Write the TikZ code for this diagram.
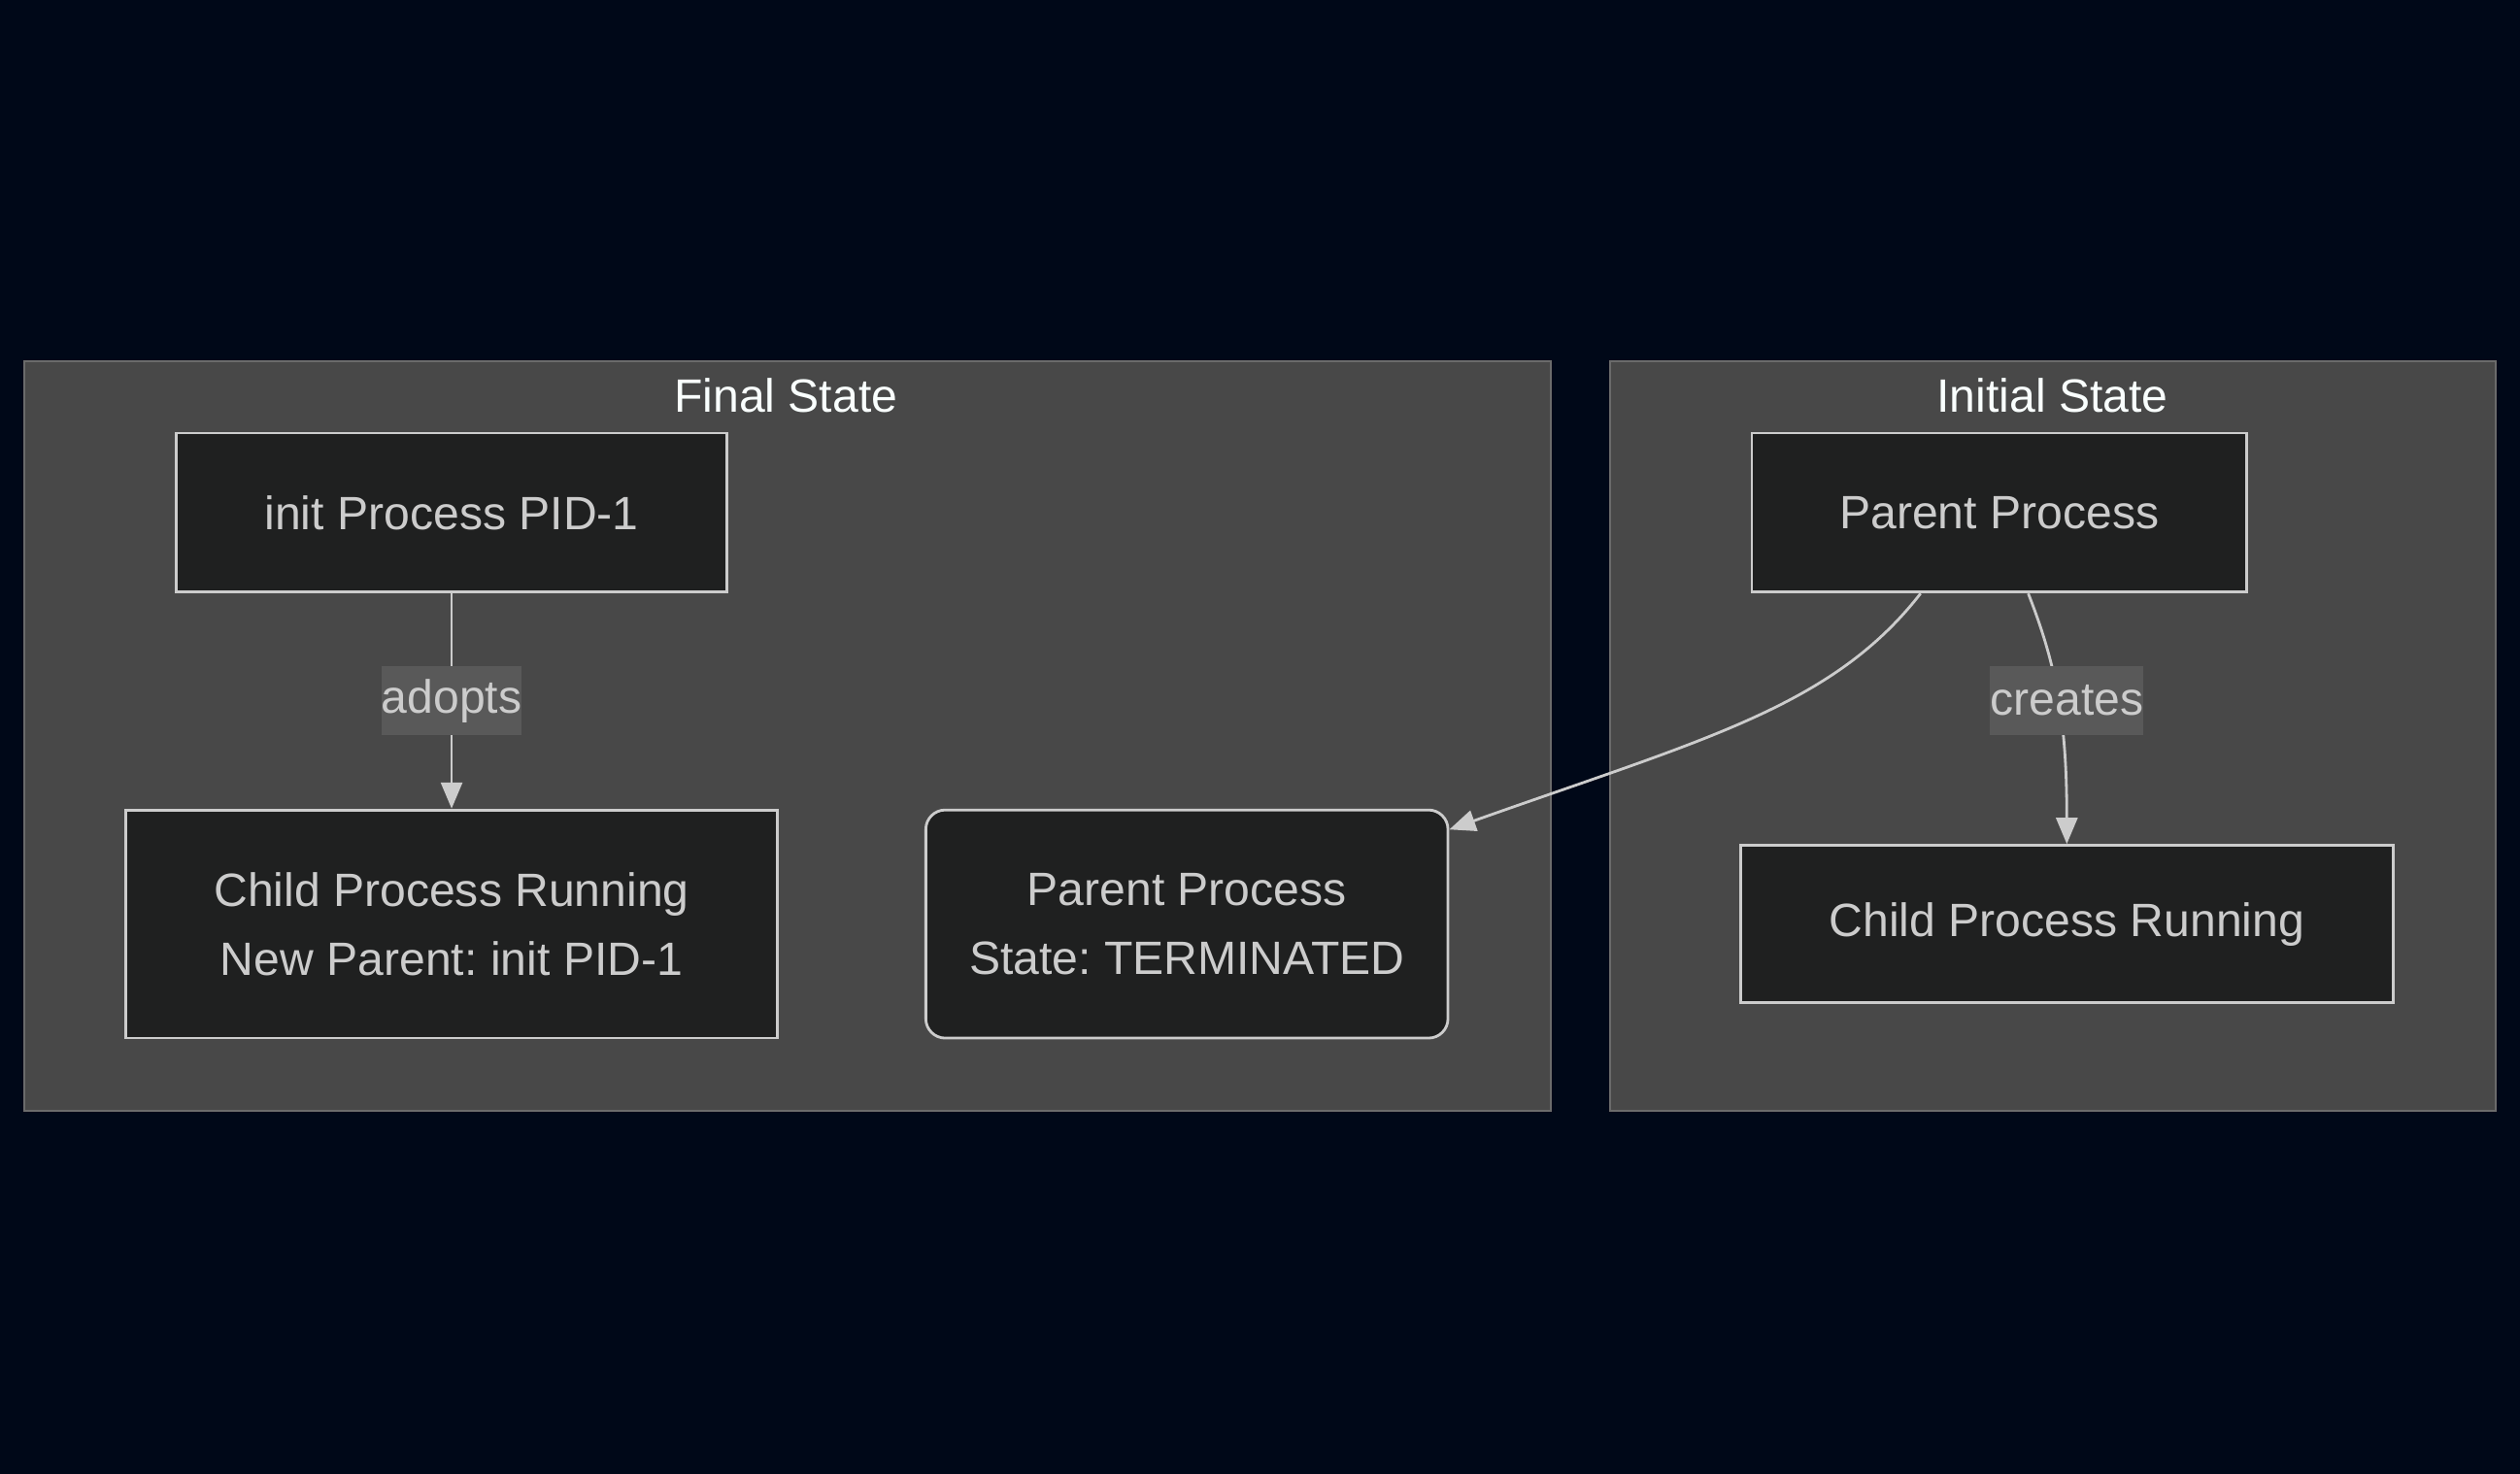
\documentclass[tikz,border=0pt]{standalone}
\usepackage{fontspec}
\setmainfont{Liberation Sans}
\frenchspacing
\usetikzlibrary{arrows.meta,calc}
\definecolor{bgnavy}{HTML}{000818}
\definecolor{clusterfill}{HTML}{484848}
\definecolor{clusterline}{HTML}{6B6B6B}
\definecolor{procfill}{HTML}{1F2020}
\definecolor{procline}{HTML}{CCCCCC}
\definecolor{lblfill}{HTML}{595959}
\definecolor{titletext}{HTML}{F9FFFE}
\newcommand{\linew}{0.8pt}
\newcommand{\txtfont}{\fontsize{13.7pt}{20.2pt}\selectfont}

\begin{document}
\begin{tikzpicture}[x=0.01655cm, y=-0.01655cm,
        proc/.style={draw=procline, fill=procfill, line width=\linew, text=procline, font=\txtfont, align=center, inner sep=0pt},
        lbl/.style={fill=lblfill, text=procline, font=\txtfont, inner xsep=0pt, inner ysep=0pt, minimum height=0.712cm},
        cluster/.style={draw=clusterline, fill=clusterfill, line width=0.6pt},
        title/.style={text=titletext, font=\txtfont, inner sep=0pt},
        link/.style={draw=procline, line width=\linew, -{Triangle[length=0.27cm, width=0.22cm]}}]
        %background
        \fill[bgnavy] (0,0) rectangle (1568,917);

        %clusters
        \draw[cluster] (15,225) rectangle (965,691);
        \draw[cluster] (1002,225) rectangle (1553,691);
        \node[title, name=finaltitle  ] at (489,246)  {Final State};
        \node[title, name=initialtitle] at (1277,246) {Initial State};

        %processes
        \node[proc, minimum width=5.677cm, minimum height=1.638cm, name=init      ] at (281,319)   {init Process PID-1};
        \node[proc, minimum width=6.719cm, minimum height=2.350cm, name=childnew  ] at (281,575)   {Child Process Running\\New Parent: init PID-1};
        \node[proc, minimum width=5.379cm, minimum height=2.350cm, rounded corners=0.2cm, name=parentdead] at (738.5,575) {Parent Process\\State: TERMINATED};
        \node[proc, minimum width=5.097cm, minimum height=1.638cm, name=parent    ] at (1244,319)  {Parent Process};
        \node[proc, minimum width=6.719cm, minimum height=1.622cm, name=child     ] at (1286,575)  {Child Process Running};

        %links
        \draw[link] (init.south) -- (childnew.north);
        \node[lbl, name=adopts] at (281,436) {adopts};
        \draw[link] ($(parent.south)+(18,0)$) .. controls (1280,415) and (1286,450) .. (child.north);
        \node[lbl, name=creates] at (1286,436) {creates};
        \draw[link] ($(parent.south)+(-49,0)$) .. controls (1140,440) and (1060,460) .. ($(parentdead.north east)+(0,13)$);
    \end{tikzpicture}
\end{document}
